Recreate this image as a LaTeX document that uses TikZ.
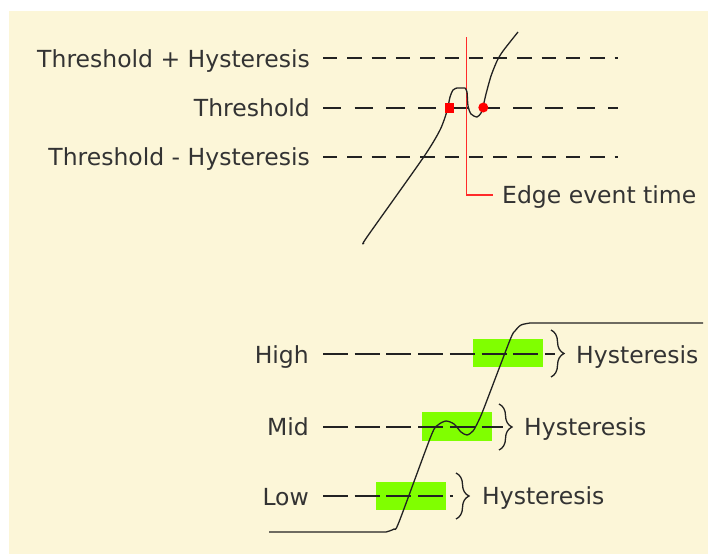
\documentclass[tikz,border=0pt]{standalone}
\usepackage{fontspec}
\setmainfont{DejaVu Sans}
\usetikzlibrary{decorations.pathreplacing}
\definecolor{cream}{HTML}{FCF6D8}
\definecolor{hgreen}{HTML}{80FF00}
\definecolor{txt}{HTML}{333333}
\definecolor{edgered}{HTML}{FF2A2A}
\definecolor{ink}{HTML}{222222}
\begin{document}
\begin{tikzpicture}[x=1pt,y=-1pt,
  lbl/.style={inner sep=0pt, text=txt, font=\fontsize{23.5}{28}\selectfont},
  topdash/.style={draw=ink, line width=2.2pt, dash pattern=on 14.3pt off 10pt},
  middash/.style={draw=ink, line width=2.2pt, dash pattern=on 18.3pt off 13.4pt},
  lowdash/.style={draw=ink, line width=2.2pt, dash pattern=on 25pt off 6.7pt},
  signal/.style={draw=ink, line width=1.3pt, line join=round},
  hbox/.style={fill=hgreen},
  hbrace/.style={draw=ink, line width=1.3pt, decorate, decoration={brace, amplitude=13pt}},
  edgeline/.style={draw=edgered, line width=1.3pt}
]
\useasboundingbox (0,0) rectangle (708,554);
\fill[white] (0,0) rectangle (708,554);
\fill[cream] (9,11) rectangle (708,554);

% ---------- upper part ----------
\node[lbl, anchor=base east] (thp) at (310,67) {Threshold + Hysteresis};
\node[lbl, anchor=base east] (th)  at (310,116) {Threshold};
\node[lbl, anchor=base east] (thm) at (310,165) {Threshold - Hysteresis};

\coordinate (thpS) at (323,58);  \coordinate (thpE) at (618,58);
\coordinate (thS)  at (323,108); \coordinate (thE)  at (618,108);
\coordinate (thmS) at (323,157); \coordinate (thmE) at (618,157);
\draw[topdash] (thpS) -- (thpE);
\draw[middash] (thS) -- (thE);
\draw[topdash] (thmS) -- (thmE);

% edge event marker
\coordinate (redTop) at (466.5,37);
\coordinate (redCorner) at (466.5,195);
\coordinate (redEnd) at (493,195);
\node[lbl, anchor=base west] (edge) at (502,203) {Edge event time};
\draw[edgeline] (redTop) -- (redCorner) -- (redEnd);

% signal with glitch
\draw[signal] plot[smooth, tension=0.45] coordinates {
  (364,243) (367,237) (423,158) (440,130) (447,111) (450,97) (453,90) (457,88)}
  -- (465,88) plot[smooth, tension=0.45] coordinates {
  (465,88) (467,92) (468,106) (471,114) (477,117) (481,113) (483,107) (486,94)
  (491,76) (497,61) (503,51) (518,32)};

% crossing marks
\node[fill=red, minimum width=9pt, minimum height=10pt, inner sep=0pt] (sq) at (449,108) {};
\node[fill=red, circle, minimum size=10pt, inner sep=0pt] (dot) at (483.3,107.5) {};

% ---------- lower part ----------
\fill[hbox] (473,339) rectangle (543,367);
\fill[hbox] (422,412) rectangle (492,441);
\fill[hbox] (376,482) rectangle (446,510);

\node[lbl, anchor=base east] (high) at (309,363) {High};
\node[lbl, anchor=base east] (mid)  at (309,435) {Mid};
\node[lbl, anchor=base east] (low)  at (309,505) {Low};

\coordinate (hiS) at (323,354); \coordinate (hiE) at (555,354);
\coordinate (miS) at (323,427); \coordinate (miE) at (503,427);
\coordinate (loS) at (323,496); \coordinate (loE) at (453,496);
\draw[lowdash] (hiS) -- (hiE);
\draw[lowdash] (miS) -- (miE);
\draw[lowdash] (loS) -- (loE);

% braces
\coordinate (hbT) at (551,330); \coordinate (hbB) at (551,377);
\coordinate (mbT) at (499,404); \coordinate (mbB) at (499,450);
\coordinate (lbT) at (456,473); \coordinate (lbB) at (456,519);
\draw[hbrace] (hbT) -- (hbB);
\draw[hbrace] (mbT) -- (mbB);
\draw[hbrace] (lbT) -- (lbB);

\node[lbl, anchor=base west] (hyh) at (576,363) {Hysteresis};
\node[lbl, anchor=base west] (hym) at (524,435) {Hysteresis};
\node[lbl, anchor=base west] (hyl) at (482,504) {Hysteresis};

% step signal
\draw[signal] (269,532) -- (386,532) plot[smooth, tension=0.45] coordinates {
  (386,532) (394,529) (399,522) (431,436) (438,425) (446,421)
  (454,424) (461,432) (467,435) (473,431) (478,422) (484,408) (510,340)
  (515,331) (521,325) (530,323)} -- (703,323);
\end{tikzpicture}
\end{document}
